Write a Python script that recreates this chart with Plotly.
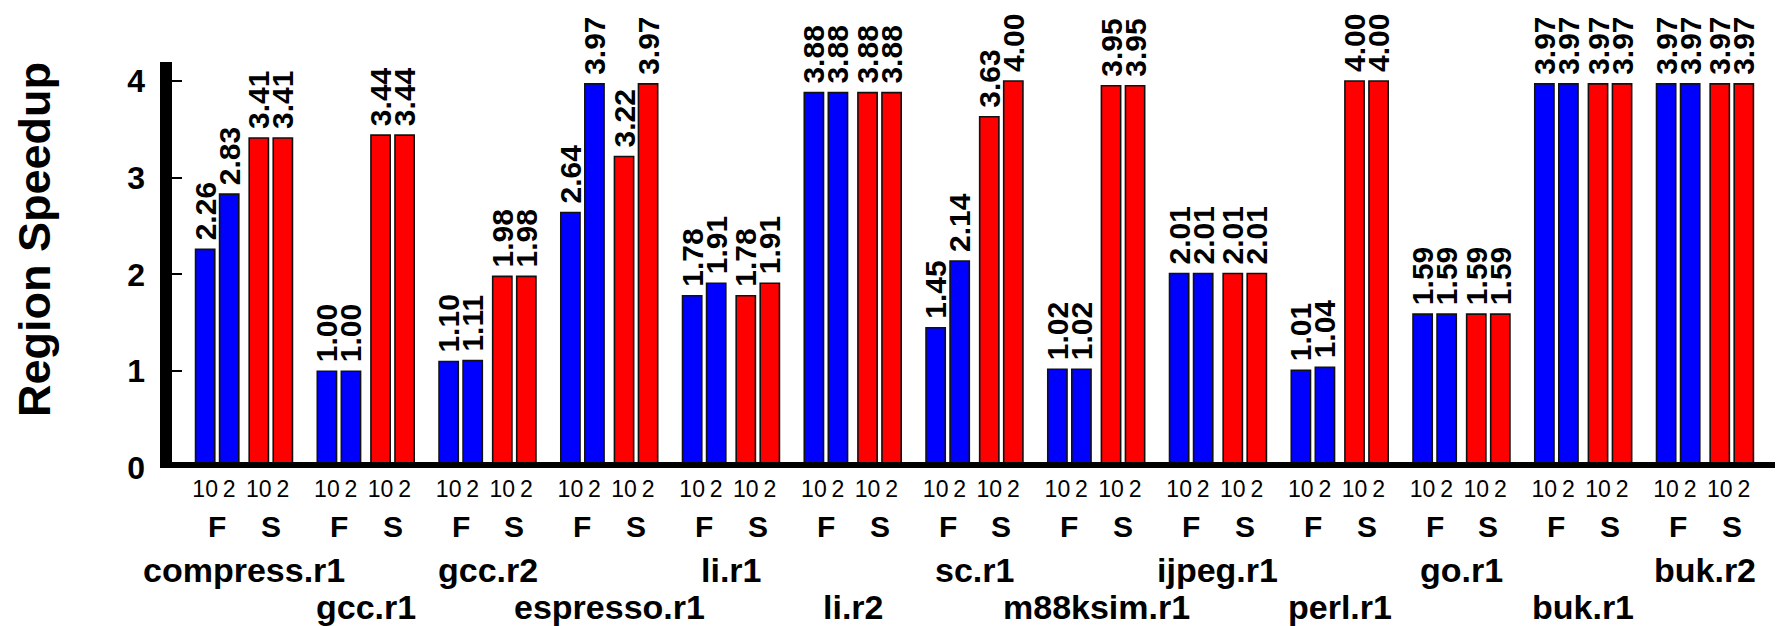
import plotly.graph_objects as go

benchmarks = ["compress.r1", "gcc.r1", "gcc.r2", "espresso.r1", "li.r1", "li.r2", "sc.r1",
              "m88ksim.r1", "ijpeg.r1", "perl.r1", "go.r1", "buk.r1", "buk.r2"]
f_10 = [2.26, 1.00, 1.10, 2.64, 1.78, 3.88, 1.45, 1.02, 2.01, 1.01, 1.59, 3.97, 3.97]
f_2 = [2.83, 1.00, 1.11, 3.97, 1.91, 3.88, 2.14, 1.02, 2.01, 1.04, 1.59, 3.97, 3.97]
s_10 = [3.41, 3.44, 1.98, 3.22, 1.78, 3.88, 3.63, 3.95, 2.01, 4.00, 1.59, 3.97, 3.97]
s_2 = [3.41, 3.44, 1.98, 3.97, 1.91, 3.88, 4.00, 3.95, 2.01, 4.00, 1.59, 3.97, 3.97]
bar_ticks = ["10", "2", "10", "2"]
pair_labels = ["F", "S"]
y_ticks = [0, 1, 2, 3, 4]

FONT = "Liberation Sans, Arial, Helvetica, sans-serif"
BLUE = "#0000ff"
RED = "#ff0000"

offsets = [-0.319, -0.1216, 0.1216, 0.319]
pair_offsets = [-0.2203, 0.2203]
bar_w = 0.158

series = [(f_10, BLUE), (f_2, BLUE), (s_10, RED), (s_2, RED)]

fig = go.Figure()
n = len(benchmarks)
for k, (vals, col) in enumerate(series):
    xs = [i + offsets[k] for i in range(n)]
    fig.add_trace(go.Bar(
        x=xs, y=vals, width=bar_w,
        marker=dict(color=col, line=dict(color="#111111", width=1.6)),
        texttemplate="\u2009%{y:.2f}", textposition="outside", textangle=-90,
        textfont=dict(family=FONT, size=30, color="black", weight="bold"),
        constraintext="none", cliponaxis=False, showlegend=False,
        hoverinfo="skip",
    ))

tickvals = []
ticktext = []
for i in range(n):
    for k in range(4):
        tickvals.append(i + offsets[k])
        ticktext.append(bar_ticks[k])

annotations = []
for i, name in enumerate(benchmarks):
    for j, lab in enumerate(pair_labels):
        annotations.append(dict(
            x=i + pair_offsets[j], xref="x", y=-0.1453, yref="paper",
            text=lab, showarrow=False, xanchor="center", yanchor="middle",
            font=dict(family=FONT, size=30, color="black", weight="bold")))
    annotations.append(dict(
        x=i, xref="x", y=(-0.2512 if i % 2 == 0 else -0.3424), yref="paper",
        text=name, showarrow=False, xanchor="center", yanchor="middle",
        font=dict(family=FONT, size=34, color="black", weight="bold")))

annotations.append(dict(
    x=-0.081, xref="paper", y=0.5616, yref="paper", text="Region Speedup",
    textangle=-90, showarrow=False, xanchor="center", yanchor="middle",
    font=dict(family=FONT, size=45, color="black", weight="bold")))

YMAX = 4.196
shapes = [
    dict(type="line", xref="paper", yref="y", x0=0, x1=0, y0=0, y1=YMAX,
         line=dict(color="black", width=12), layer="above"),
    dict(type="line", xref="paper", yref="y", x0=-0.0037, x1=1, y0=0, y1=0,
         line=dict(color="black", width=12), layer="above"),
]

# page body has an 8px default margin: compensate so the figure fills 1783x626
fig.update_layout(
    width=1775, height=618,
    margin=dict(l=158, r=0, t=54, b=158, pad=0),
    paper_bgcolor="white", plot_bgcolor="white",
    barmode="overlay",
    font=dict(family=FONT, color="black"),
    annotations=annotations,
    shapes=shapes,
    xaxis=dict(range=[-0.6407, 12.641], tickvals=tickvals, ticktext=ticktext,
               ticks="", showline=False, showgrid=False, zeroline=False,
               tickfont=dict(family=FONT, size=23, color="black"),
               tickangle=0, ticklabelstandoff=5, fixedrange=True),
    yaxis=dict(range=[0, YMAX], tickvals=y_ticks, ticks="inside", ticklen=16,
               tickwidth=2, tickcolor="black", showline=False, showgrid=False,
               zeroline=False, ticklabelstandoff=20,
               tickfont=dict(family=FONT, size=32, color="black", weight="bold"),
               fixedrange=True),
)

fig.write_html("out.html")
